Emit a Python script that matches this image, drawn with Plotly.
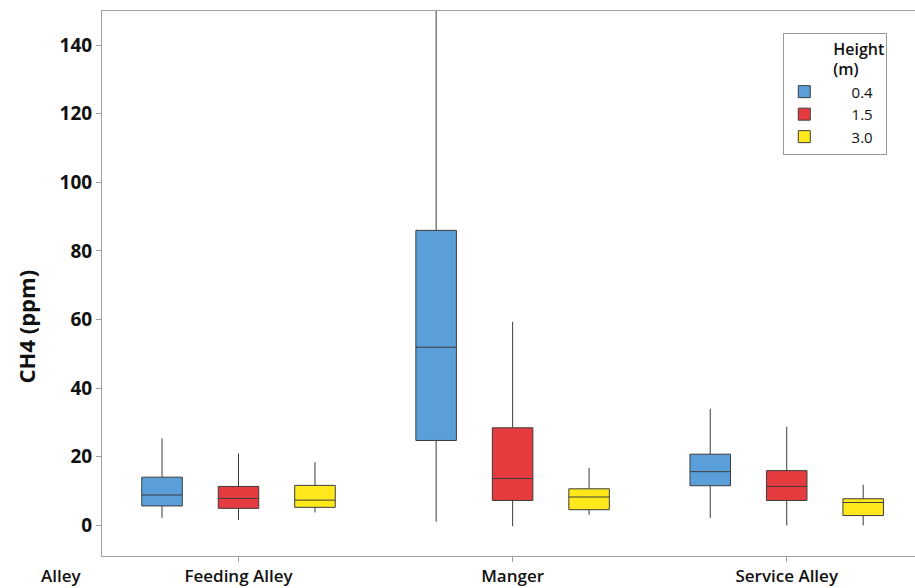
import plotly.graph_objects as go

# Locations along the barn and sampling heights
alleys = ["Feeding Alley", "Manger", "Service Alley"]
heights = ["0.4", "1.5", "3.0"]
colors = ["#5B9FDA", "#E63B3E", "#FFE91C"]

# Box statistics of CH4 (ppm) per height, one value per alley
lower_04 = [2.1, 1.0, 2.1]
q1_04 = [5.6, 24.7, 11.5]
median_04 = [8.8, 51.9, 15.6]
q3_04 = [14.0, 86.0, 20.7]
upper_04 = [25.3, 160.0, 34.0]

lower_15 = [1.5, -0.3, -0.1]
q1_15 = [4.9, 7.2, 7.2]
median_15 = [7.8, 13.6, 11.3]
q3_15 = [11.3, 28.4, 15.9]
upper_15 = [20.9, 59.3, 28.7]

lower_30 = [3.7, 3.0, -0.1]
q1_30 = [5.2, 4.5, 2.8]
median_30 = [7.3, 8.2, 6.6]
q3_30 = [11.6, 10.6, 7.7]
upper_30 = [18.4, 16.7, 11.8]

stats = [
    (lower_04, q1_04, median_04, q3_04, upper_04),
    (lower_15, q1_15, median_15, q3_15, upper_15),
    (lower_30, q1_30, median_30, q3_30, upper_30),
]

font_family = "Open Sans, Noto Sans, sans-serif"
# non-breaking spaces push the legend labels to the right of the swatches
label_pad = "\u00a0" * 7

fig = go.Figure()
for name, color, (lo, q1, med, q3, up) in zip(heights, colors, stats):
    fig.add_trace(go.Box(
        name=label_pad + name + "\u00a0\u00a0",
        x=alleys,
        lowerfence=lo,
        q1=q1,
        median=med,
        q3=q3,
        upperfence=up,
        fillcolor=color,
        line=dict(color="#3C3C3C", width=1),
        whiskerwidth=0,
        boxpoints=False,
    ))

fig.update_layout(
    width=915,
    height=588,
    margin=dict(l=102, r=0, t=11, b=32),
    paper_bgcolor="white",
    plot_bgcolor="white",
    boxmode="group",
    boxgap=0.163,
    boxgroupgap=0.47,
    font=dict(family=font_family, color="#111111"),
    xaxis=dict(
        range=[-0.498, 2.468],
        showline=True,
        linecolor="#A0A0A0",
        linewidth=1,
        mirror=True,
        ticks="outside",
        ticklen=5,
        tickcolor="#A0A0A0",
        showgrid=False,
        zeroline=False,
        tickfont=dict(size=17, family=font_family, weight=600),
    ),
    yaxis=dict(
        range=[-9, 150],
        tickvals=[0, 20, 40, 60, 80, 100, 120, 140],
        showline=True,
        linecolor="#A0A0A0",
        linewidth=1,
        ticks="outside",
        ticklen=5,
        tickcolor="#A0A0A0",
        showgrid=False,
        zeroline=False,
        tickfont=dict(size=19, family=font_family, weight="bold"),
    ),
    legend=dict(
        x=0.838,
        y=0.96,
        xanchor="left",
        yanchor="top",
        bordercolor="#9A9A9A",
        borderwidth=1,
        bgcolor="white",
        font=dict(size=15, family=font_family),
        title=dict(text="Height<br>(m)", side="top right", font=dict(size=16, family=font_family, weight=600)),
        itemwidth=30,
    ),
    annotations=[
        dict(
            text="CH4 (ppm)",
            xref="paper",
            yref="paper",
            x=-0.093,
            y=0.422,
            xanchor="center",
            yanchor="middle",
            textangle=-90,
            showarrow=False,
            font=dict(size=22, family=font_family, weight="bold"),
        ),
        dict(
            text="Alley",
            xref="paper",
            yref="paper",
            x=-0.05,
            y=-0.035,
            xanchor="center",
            yanchor="middle",
            showarrow=False,
            font=dict(size=17, family=font_family, weight=600),
        ),
    ],
)

fig.write_html("out.html")
